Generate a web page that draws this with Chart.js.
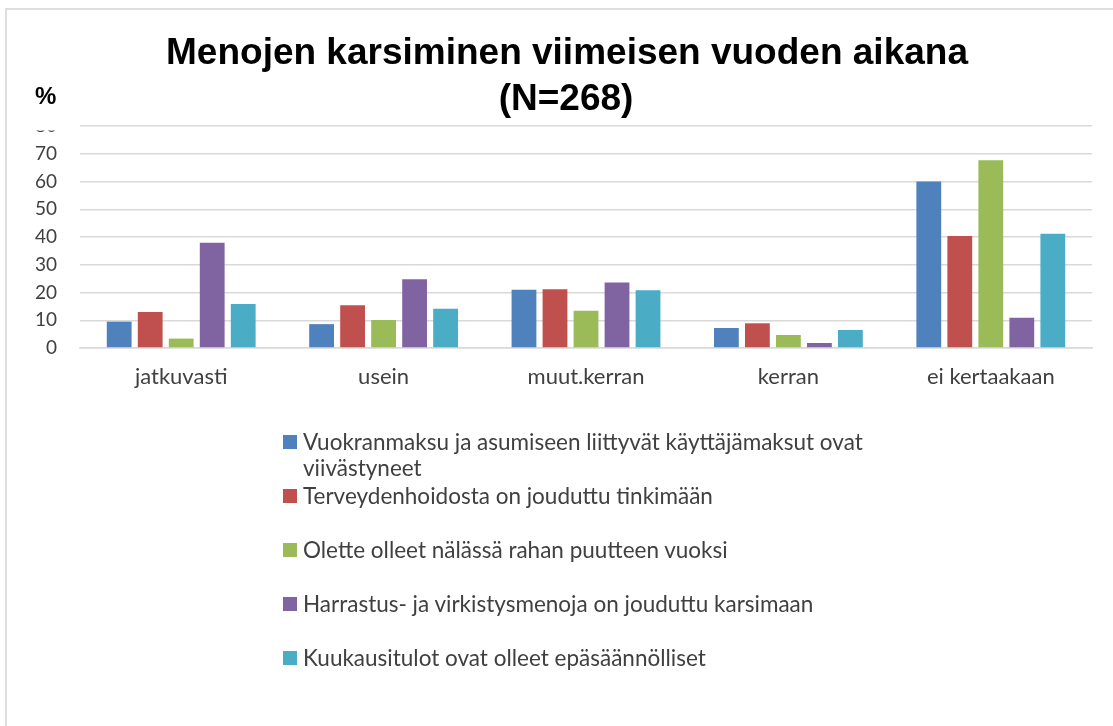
<!DOCTYPE html>
<html>
<head>
<meta charset="utf-8">
<script src="https://cdn.jsdelivr.net/npm/chart.js@4.4.1/dist/chart.umd.min.js"></script>
<style>
  html, body { margin: 0; padding: 0; background: #fff; overflow: hidden; }
  #frame { position: absolute; left: 5px; top: 8px; width: 1200px; height: 800px;
           border-left: 2px solid #dedede; border-top: 2px solid #dedede; }
  #wrap { position: absolute; left: 0; top: 0; width: 1113px; height: 726px; }
  #legend { position: absolute; left: 283px; top: 429px; font-family: Lato, "Open Sans", sans-serif;
            font-size: 22.5px; color: #404040; }
  .item { display: flex; align-items: flex-start; height: 54px; }
  .sw { width: 14px; height: 14px; margin-top: 6px; margin-right: 6px; flex: none; }
  .txt { width: 585px; line-height: 26px; }
</style>
</head>
<body>
<div id="frame"></div>
<div id="wrap"><canvas id="c"></canvas></div>
<div id="legend"></div>
<script>
const titleLines = ['Menojen karsiminen viimeisen vuoden aikana', '(N=268)'];
const unitLabel = '%';
const categories = ['jatkuvasti', 'usein', 'muut.kerran', 'kerran', 'ei kertaakaan'];
const seriesNames = [
  'Vuokranmaksu ja asumiseen liittyvät käyttäjämaksut ovat viivästyneet',
  'Terveydenhoidosta on jouduttu tinkimään',
  'Olette olleet nälässä rahan puutteen vuoksi',
  'Harrastus- ja virkistysmenoja on jouduttu karsimaan',
  'Kuukausitulot ovat olleet epäsäännölliset'
];
const vuokra    = [9.5, 8.6, 21.0, 7.2, 60.0];
const terveys   = [13.0, 15.4, 21.2, 8.9, 40.4];
const nalka     = [3.4, 10.1, 13.4, 4.7, 67.7];
const harrastus = [37.9, 24.8, 23.6, 1.8, 10.9];
const kuukausi  = [15.9, 14.1, 20.8, 6.5, 41.2];
const yMin = 0, yMax = 80, yStep = 10;

const colors = ['#4F81BD', '#C0504D', '#9BBB59', '#8064A2', '#4BACC6'];
const seriesValues = [vuokra, terveys, nalka, harrastus, kuukausi];

const overlay = {
  id: 'overlay',
  afterDraw(chart) {
    const ctx = chart.ctx;
    ctx.save();
    // the chart title box hides the top of the "80" tick label
    ctx.fillStyle = '#fff';
    ctx.fillRect(15, 106, 62, 24.5);
    ctx.fillStyle = '#000';
    ctx.textAlign = 'center';
    ctx.textBaseline = 'middle';
    ctx.font = 'bold 37px "Liberation Sans", Arial, sans-serif';
    ctx.fillText(titleLines[0], 567, 54);
    ctx.fillText(titleLines[1], 566, 100);
    ctx.font = 'bold 24px "Liberation Sans", Arial, sans-serif';
    ctx.textAlign = 'left';
    ctx.fillText(unitLabel, 35, 97);
    ctx.restore();
  }
};

const chart = new Chart(document.getElementById('c'), {
  type: 'bar',
  data: {
    labels: categories,
    datasets: seriesNames.map((n, i) => ({
      label: n,
      data: seriesValues[i],
      backgroundColor: colors[i],
      borderWidth: 0,
      categoryPercentage: 0.766,
      barPercentage: 0.8
    }))
  },
  options: {
    responsive: true,
    maintainAspectRatio: false,
    animation: false,
    layout: { padding: { top: 126, left: 0, right: 21, bottom: 328 } },
    plugins: { legend: { display: false }, title: { display: false }, tooltip: { enabled: false } },
    scales: {
      x: {
        grid: { display: false, drawTicks: false },
        border: { color: '#d9d9d9', width: 1.5 },
        ticks: { color: '#404040', font: { family: 'Lato', size: 22 }, padding: 16, maxRotation: 0 },
        afterFit(s) { s.height = 50; }
      },
      y: {
        min: yMin, max: yMax,
        grid: { color: '#d9d9d9', lineWidth: 1.5, drawTicks: false },
        border: { display: false },
        ticks: { stepSize: yStep, color: '#404040', font: { family: 'Lato', size: 19 }, padding: 23 },
        afterFit(s) { s.width = 80; }
      }
    }
  },
  plugins: [overlay]
});

const lg = document.getElementById('legend');
chart.data.datasets.forEach(ds => {
  const it = document.createElement('div');
  it.className = 'item';
  const sw = document.createElement('span');
  sw.className = 'sw';
  sw.style.background = ds.backgroundColor;
  const tx = document.createElement('span');
  tx.className = 'txt';
  tx.textContent = ds.label;
  it.appendChild(sw); it.appendChild(tx);
  lg.appendChild(it);
});
</script>
</body>
</html>
